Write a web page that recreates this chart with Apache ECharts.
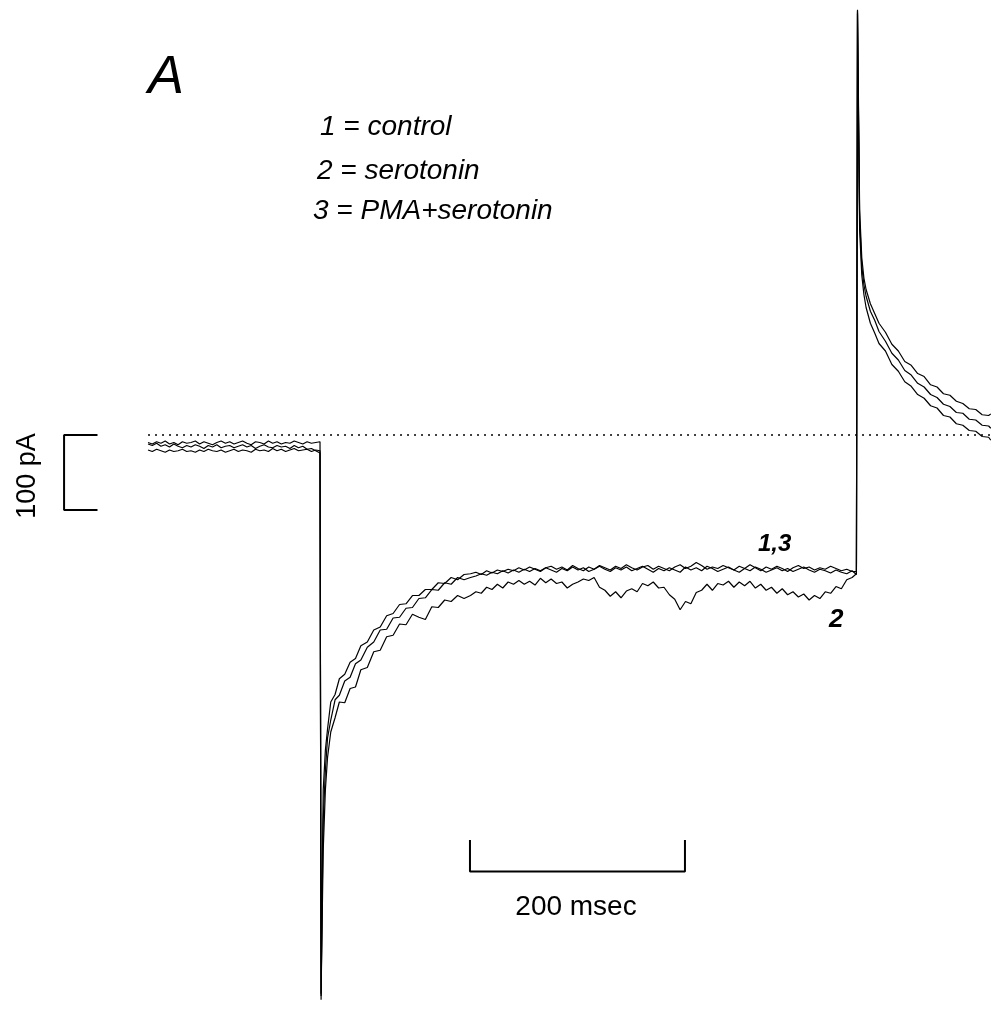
<!DOCTYPE html>
<html>
<head>
<meta charset="utf-8">
<script src="https://cdn.jsdelivr.net/npm/echarts@6/dist/echarts.min.js"></script>
<style>
  html, body { margin:0; padding:0; background:#fff; }
  #main { width:991px; height:1012px; }
</style>
</head>
<body>
<div id="main"></div>
<script>
// time (msec) shared by the three traces
var timeMs = [
    // holding level
    0,4,8,12,16,20,24,28,32,36,40,44,48,52,56,60,64,68,72,76,
    80,84,88,92,96,100,104,108,112,116,120,124,128,132,136,140,144,148,152,156,
    160,
    // step on
    161,162,163,165,167,170,174,178,183,188,193,198,204,210,216,222,228,234,240,246,
    252,258,264,270,276,282,288,294,
    // steady level
    300,305,310,315,320,325,330,335,340,345,350,355,360,365,370,375,380,385,390,395,
    400,405,410,415,420,425,430,435,440,445,450,455,460,465,470,475,480,485,490,495,
    500,505,510,515,520,525,530,535,540,545,550,555,560,565,570,575,580,585,590,595,
    600,605,610,615,620,625,630,635,640,645,650,655,
    659,
    // step off / tail
    660,661,662,664,666,668,672,676,680,686,692,698,704,710,716,722,728,734,740,746,
    752,758,764,770,776,782,784
];

// current (pA), 1 = control
var control = [
    -10,-12,-9,-11,-8,-12,-10,-13,-9,-11,-10,-8,-12,-9,-11,-13,-10,-8,-11,-9,
    -12,-10,-8,-11,-13,-9,-10,-12,-8,-11,-9,-12,-10,-11,-8,-10,-12,-9,-11,-10,
    -9,
    -753,-593,-473,-420,-392,-356,-346,-325,-319,-303,-298,-281,-276,-260,-256,-241,-238,-226,-225,-214,
    -214,-206,-206,-197,-198,-190,-193,-186,
    -185,-183,-186,-181,-184,-180,-182,-179,-181,-177,-180,-176,-179,-182,-177,-175,-179,-176,-180,-174,
    -178,-181,-176,-179,-174,-177,-180,-175,-178,-173,-177,-180,-176,-174,-179,-175,-178,-181,-176,-173,
    -178,-175,-170,-174,-179,-176,-178,-174,-177,-180,-175,-178,-173,-177,-181,-176,-179,-175,-178,-182,
    -177,-174,-178,-176,-180,-177,-179,-175,-178,-181,-179,-182,
    -182,
    567,433,300,236,209,194,175,162,149,137,121,112,98,93,82,78,67,64,55,53,
    45,42,35,34,27,26,28
];

// 2 = serotonin
var serotonin = [
    -20,-22,-19,-21,-23,-20,-22,-21,-19,-22,-21,-23,-20,-22,-19,-21,-22,-20,-23,-21,
    -19,-22,-20,-21,-23,-19,-21,-20,-22,-18,-21,-19,-22,-20,-18,-21,-20,-19,-22,-20,
    -21,
    -745,-647,-553,-473,-430,-396,-377,-356,-357,-338,-336,-313,-310,-289,-287,-269,-267,-252,-253,-239,
    -243,-246,-229,-230,-220,-222,-214,-218,
    -214,-209,-211,-203,-206,-199,-204,-196,-199,-194,-199,-195,-200,-191,-197,-192,-198,-196,-204,-199,
    -196,-192,-194,-190,-203,-207,-215,-209,-217,-208,-205,-209,-198,-201,-196,-204,-203,-213,-219,-233,
    -222,-225,-210,-207,-199,-207,-198,-200,-195,-203,-196,-201,-195,-204,-199,-207,-203,-211,-205,-213,
    -209,-216,-212,-220,-214,-218,-209,-211,-202,-205,-193,-190,
    -185,
    565,407,273,213,187,170,149,136,122,112,94,85,71,65,54,49,39,36,26,24,
    15,13,6,5,-2,-3,-7
];

// 3 = PMA+serotonin
var pmaSerotonin = [
    -12,-14,-11,-15,-13,-16,-12,-15,-17,-14,-16,-13,-15,-18,-14,-16,-13,-17,-15,-14,
    -17,-15,-13,-16,-14,-18,-15,-13,-16,-17,-14,-16,-15,-18,-14,-17,-15,-19,-18,-21,
    -24,
    -748,-620,-513,-447,-404,-380,-353,-347,-328,-323,-305,-300,-283,-276,-260,-259,-244,-243,-231,-230,
    -218,-217,-206,-207,-197,-199,-190,-193,
    -190,-188,-185,-187,-183,-185,-181,-184,-180,-183,-179,-182,-178,-181,-177,-180,-183,-178,-181,-176,
    -180,-177,-182,-179,-175,-179,-182,-177,-180,-176,-181,-178,-175,-179,-183,-178,-181,-177,-180,-183,
    -176,-180,-177,-181,-175,-178,-182,-179,-176,-180,-183,-178,-181,-176,-179,-183,-180,-177,-181,-178,
    -182,-179,-176,-180,-183,-179,-181,-184,-180,-183,-185,-181,
    -186,
    562,420,287,225,200,185,165,153,138,125,109,100,86,80,69,64,54,50,41,38,
    30,29,21,20,13,12,9
];

// zero current line
var zeroLine = [[0, 0], [784.2, 0]];

// calibration bars: 100 pA and 200 msec
var pABar = [[-47, 0], [-78.1, 0], [-78.1, -100], [-47, -100]];
var msecBar = [[299.5, -540], [299.5, -582], [499.5, -582], [499.5, -540]];

function pairs(vals){
    var out = [];
    for (var i = 0; i < timeMs.length && i < vals.length; i++) {
        out.push([timeMs[i], vals[i]]);
    }
    return out;
}

function trace(name, vals){
    return {
        name: name, type: 'line', showSymbol: false, clip: false,
        lineStyle: { color: '#000', width: 1.2 },
        data: pairs(vals), z: 3
    };
}

var chart = echarts.init(document.getElementById('main'));
chart.setOption({
    animation: false,
    backgroundColor: '#fff',
    grid: { left: 0, right: 0, top: 0, bottom: 0 },
    xAxis: { type: 'value', min: -137.7, max: 784.2, show: false },
    yAxis: { type: 'value', min: -769.3, max: 580, show: false },
    series: [
        {
            name: 'zero', type: 'line', showSymbol: false,
            lineStyle: { color: '#000', width: 1.5, type: [2, 5] },
            data: zeroLine, z: 1
        },
        trace('control', control),
        trace('serotonin', serotonin),
        trace('PMA+serotonin', pmaSerotonin),
        {
            name: 'pA bar', type: 'line', showSymbol: false, clip: false,
            lineStyle: { color: '#000', width: 2 },
            data: pABar
        },
        {
            name: 'msec bar', type: 'line', showSymbol: false, clip: false,
            lineStyle: { color: '#000', width: 2 },
            data: msecBar
        }
    ],
    graphic: [
        { type: 'text', x: 148, y: 78,
          style: { text: 'A', font: 'italic 54px "Liberation Sans"', fill: '#000', verticalAlign: 'middle' } },
        { type: 'text', x: 320, y: 127,
          style: { text: '1 = control', font: 'italic 28px "Liberation Sans"', fill: '#000', verticalAlign: 'middle' } },
        { type: 'text', x: 317, y: 171,
          style: { text: '2 = serotonin', font: 'italic 28px "Liberation Sans"', fill: '#000', verticalAlign: 'middle' } },
        { type: 'text', x: 313, y: 211,
          style: { text: '3 = PMA+serotonin', font: 'italic 28px "Liberation Sans"', fill: '#000', verticalAlign: 'middle' } },
        { type: 'text', x: 758, y: 544,
          style: { text: '1,3', font: 'italic bold 24px "Liberation Sans"', fill: '#000', verticalAlign: 'middle' } },
        { type: 'text', x: 829, y: 620,
          style: { text: '2', font: 'italic bold 26px "Liberation Sans"', fill: '#000', verticalAlign: 'middle' } },
        { type: 'text', x: 576, y: 907,
          style: { text: '200 msec', font: '28px "Liberation Sans"', fill: '#000', align: 'center', verticalAlign: 'middle' } },
        { type: 'text', x: 28, y: 476, rotation: Math.PI / 2,
          style: { text: '100 pA', font: '27px "Liberation Sans"', fill: '#000', align: 'center', verticalAlign: 'middle' } }
    ]
});
</script>
</body>
</html>
